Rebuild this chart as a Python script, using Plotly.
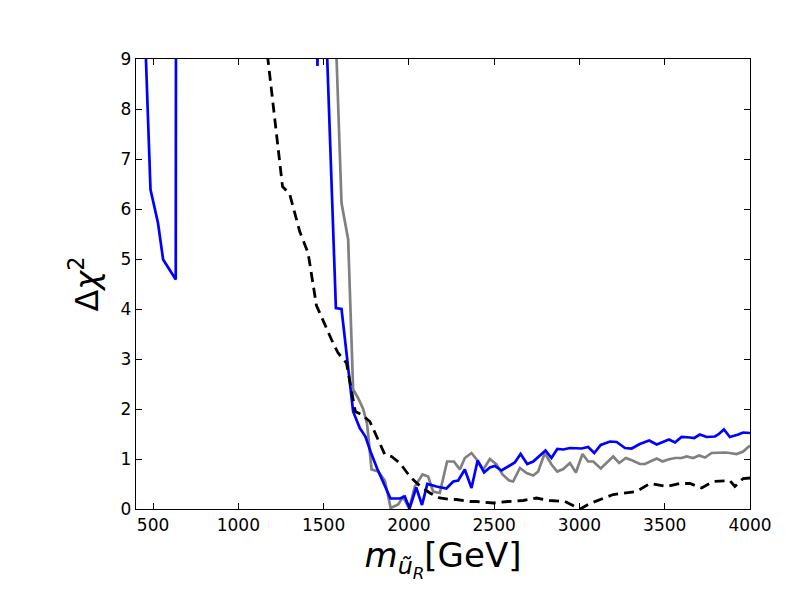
import plotly.graph_objects as go

# blue curve
blue_x = [450, 485, 529, 559, 633, 640, 1455, 1464, 1473, 1510, 1572, 1605,
          1673, 1712, 1745, 1775, 1815, 1852, 1892, 1947, 1976, 2004, 2043,
          2077, 2108, 2162, 2220, 2260, 2289, 2328, 2367, 2403, 2441, 2475,
          2504, 2543, 2582, 2621, 2655, 2694, 2729, 2764, 2801, 2836, 2870,
          2905, 2944, 3013, 3051, 3087, 3125, 3179, 3218, 3267, 3306, 3354,
          3409, 3453, 3495, 3525, 3560, 3599, 3648, 3673, 3706, 3746, 3794,
          3814, 3847, 3882, 3931, 3960, 4000]
blue_y = [9.8, 6.39, 5.72, 4.99, 4.59, 30, 11, 8.86, 11.5, 10.1, 4.02, 4.0,
          1.95, 1.62, 1.45, 1.15, 0.8, 0.52, 0.21, 0.21, 0.25, 0.01, 0.43,
          0.08, 0.5, 0.45, 0.41, 0.55, 0.57, 0.79, 0.42, 0.97, 0.73, 0.83,
          0.86, 0.77, 0.85, 0.93, 1.1, 0.9, 0.95, 1.05, 1.17, 1.02, 1.2,
          1.19, 1.22, 1.21, 1.24, 1.12, 1.28, 1.35, 1.34, 1.22, 1.21, 1.3,
          1.37, 1.29, 1.34, 1.39, 1.33, 1.44, 1.43, 1.42, 1.49, 1.44, 1.45,
          1.49, 1.59, 1.44, 1.49, 1.53, 1.52]

# gray curve
gray_x = [1560, 1605, 1644, 1673, 1702, 1732, 1755, 1781, 1820, 1859, 1893,
          1937, 1966, 2002, 2035, 2080, 2113, 2142, 2181, 2224, 2264, 2299,
          2328, 2367, 2397, 2436, 2475, 2514, 2549, 2588, 2611, 2651, 2690,
          2729, 2758, 2797, 2836, 2870, 2905, 2944, 2979, 3018, 3051, 3081,
          3125, 3159, 3198, 3233, 3272, 3311, 3354, 3384, 3413, 3453, 3488,
          3520, 3560, 3599, 3628, 3667, 3702, 3736, 3775, 3814, 3853, 3882,
          3921, 3960, 4000]
gray_y = [10.6, 6.12, 5.39, 2.39, 2.22, 2.0, 1.7, 0.79, 0.75, 0.57, 0.02,
          0.09, 0.24, 0.01, 0.45, 0.69, 0.65, 0.35, 0.32, 0.95, 0.95, 0.79,
          1.02, 1.12, 0.99, 0.79, 1.0, 0.89, 0.69, 0.57, 0.55, 0.82, 0.72,
          0.67, 0.75, 1.12, 0.89, 0.75, 0.8, 0.92, 0.73, 1.1, 0.95, 0.95,
          0.81, 0.92, 1.05, 0.92, 1.02, 0.97, 0.9, 0.9, 0.95, 1.01, 0.95,
          0.99, 1.02, 1.02, 1.05, 1.02, 1.07, 1.03, 1.12, 1.13, 1.13, 1.12,
          1.1, 1.15, 1.27]

# black dashed curve
dash_x = [1160, 1259, 1301, 1360, 1409, 1458, 1546, 1585, 1634, 1686, 1722,
          1771, 1859, 1898, 1947, 2006, 2055, 2123, 2181, 2240, 2279, 2357,
          2397, 2494, 2582, 2670, 2748, 2826, 2914, 3005, 3061, 3198, 3335,
          3413, 3511, 3589, 3648, 3716, 3785, 3882, 3911, 3960, 4000]
dash_y = [9.4, 6.45, 6.3, 5.55, 5.12, 4.07, 3.39, 3.12, 2.92, 1.95, 1.89,
          1.75, 1.09, 1.05, 0.92, 0.65, 0.49, 0.32, 0.22, 0.19, 0.19, 0.15,
          0.15, 0.12, 0.15, 0.17, 0.22, 0.17, 0.15, 0.0, 0.11, 0.29, 0.35,
          0.51, 0.45, 0.51, 0.51, 0.42, 0.55, 0.57, 0.45, 0.61, 0.62]

x_ticks = [500, 1000, 1500, 2000, 2500, 3000, 3500, 4000]
y_ticks = list(range(10))

fig = go.Figure()
fig.add_trace(go.Scatter(x=gray_x, y=gray_y, mode="lines",
                         line=dict(color="#808080", width=2.7)))
fig.add_trace(go.Scatter(x=blue_x, y=blue_y, mode="lines",
                         line=dict(color="#0000ff", width=2.7)))
fig.add_trace(go.Scatter(x=dash_x, y=dash_y, mode="lines",
                         line=dict(color="black", width=2.8, dash="10px,6px")))

axis_style = dict(showgrid=False, zeroline=False, showline=True,
                  linecolor="black", linewidth=1.3, mirror="ticks",
                  ticks="inside", ticklen=6, tickwidth=1, tickcolor="black",
                  tickfont=dict(family="DejaVu Sans", size=17, color="black"))

fig.update_xaxes(range=[400, 4000], tickvals=x_ticks, **axis_style,
                 title=dict(text="<i>m</i><sub><i>ũ</i><sub><i>R</i></sub></sub>[GeV]",
                            font=dict(family="DejaVu Sans", size=34, color="black"),
                            standoff=8))
fig.update_yaxes(range=[0, 9], tickvals=y_ticks, **axis_style,
                 title=dict(text="Δ<i>χ</i><sup>2</sup>",
                            font=dict(family="DejaVu Sans", size=32, color="black"),
                            standoff=12))

# page body adds an 8px offset, so the margins are shifted to compensate
fig.update_layout(width=800, height=600, showlegend=False,
                  plot_bgcolor="white", paper_bgcolor="white",
                  margin=dict(l=128, r=58, t=51, b=99))

fig.write_html("out.html")
